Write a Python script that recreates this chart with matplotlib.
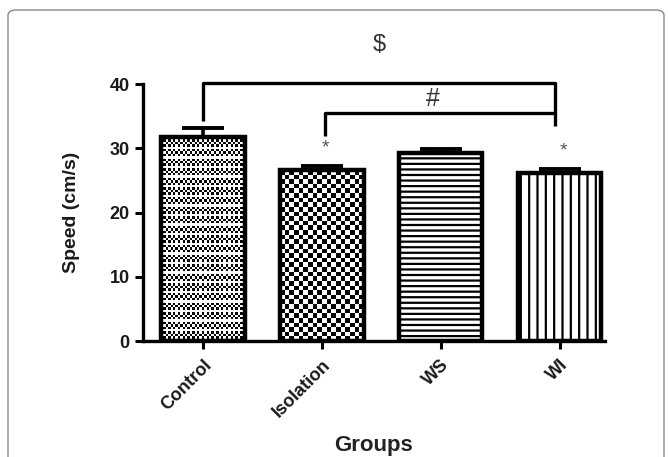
import numpy as np
import matplotlib
matplotlib.use('Agg')
import matplotlib.pyplot as plt
from matplotlib.patches import FancyBboxPatch

plt.rcParams['font.family'] = ['Liberation Sans', 'DejaVu Sans']
plt.rcParams['hatch.linewidth'] = 1.6

# ── Data ──────────────────────────────────────────────────────────────────────
groups = ['Control', 'Isolation', 'WS', 'WI']
means = [31.7, 26.6, 29.3, 26.1]
sems = [1.4, 0.6, 0.6, 0.6]
sig_stars = ['', '*', '', '*']

# ── Figure ────────────────────────────────────────────────────────────────────
fig = plt.figure(figsize=(6.68, 4.57), dpi=100)
W, H = 668, 457

# outer rounded frame
frame = FancyBboxPatch((8 / W, -0.05), (664 - 8) / W, 1.05 - 10 / H,
                       boxstyle='round,pad=0,rounding_size=0.012',
                       transform=fig.transFigure, fill=False,
                       edgecolor='#888888', linewidth=1.0)
fig.patches.append(frame)

ax = fig.add_axes([143 / W, (H - 341) / H, (605 - 143) / W, (341 - 84) / H])
x = np.arange(len(groups))
ax.set_xlim(-0.504, 3.38)
ax.set_ylim(0, 40)

bars = ax.bar(x, means, width=0.7, color='white', edgecolor='none', zorder=3)
ax.errorbar(x, means, yerr=[np.zeros(len(sems)), sems], fmt='none',
            ecolor='black', elinewidth=2.6, capsize=15, capthick=2.8, zorder=2)

# textures
for b, h in ((bars[2], '---'), (bars[3], '||')):
    b.set_hatch(h)
    b.set_edgecolor('black')
    b.set_linewidth(0)


def checker(bar, cell_px, extra_lines=0):
    x0, y0 = bar.get_x(), bar.get_y()
    w, h = bar.get_width(), bar.get_height()
    p0 = ax.transData.transform((x0, y0))
    p1 = ax.transData.transform((x0 + w, y0 + h))
    nx = max(1, int(round((p1[0] - p0[0]) / cell_px)))
    ny = max(1, int(round((p1[1] - p0[1]) / cell_px)))
    img = (np.add.outer(np.arange(ny), np.arange(nx)) % 2).astype(float)
    if extra_lines:
        img[::extra_lines, :] = 1.0
    ax.imshow(img, cmap='gray', vmin=0, vmax=1, extent=(x0, x0 + w, y0, y0 + h),
              aspect='auto', interpolation='nearest', origin='lower', zorder=3.2)


checker(bars[0], 2.4, extra_lines=4)
checker(bars[1], 4.6)

# bar outlines on top of the textures
ax.bar(x, means, width=0.7, fill=False, edgecolor='black', linewidth=3.2, zorder=3.5)

ax.set_xlim(-0.504, 3.38)
ax.set_ylim(0, 40)

# axes styling
for s in ['top', 'right']:
    ax.spines[s].set_visible(False)
for s in ['left', 'bottom']:
    ax.spines[s].set_linewidth(2.4)
ax.set_yticks([0, 10, 20, 30, 40])
ax.set_xticks(x)
ax.set_xticklabels(groups, rotation=45, ha='right', rotation_mode='anchor',
                   fontsize=13.5, fontweight='bold', color='#1a1a1a')
ax.tick_params(axis='both', width=2.2, length=6, labelsize=13)
for lab in ax.get_yticklabels():
    lab.set_fontweight('bold')
    lab.set_color('#1a1a1a')
ax.tick_params(axis='x', pad=5)

ax.set_ylabel('Speed (cm/s)', fontsize=14, fontweight='bold', color='#1a1a1a')
ax.yaxis.set_label_coords(-0.136, 0.5)
ax.set_xlabel('Groups', fontsize=16, fontweight='bold', color='#222222')
ax.xaxis.set_label_coords(0.5, -0.405)
ax.xaxis.label.set_va('center')

# significance brackets
kw = dict(color='black', linewidth=2.4, clip_on=False, solid_capstyle='butt', zorder=4)
ax.plot([0, 0, 2.96, 2.96], [34.2, 40.1, 40.1, 33.4], **kw)
ax.plot([1.03, 1.03, 2.96], [31.9, 35.5, 35.5], **kw)
ax.text(1.48, 46.0, '$', ha='center', va='center', fontsize=17, clip_on=False,
        color='#333333')
ax.text(1.93, 37.7, '#', ha='center', va='center', fontsize=18, clip_on=False,
        color='#333333')
for xi, m, e, st in zip(x, means, sems, sig_stars):
    if st:
        ax.text(xi + 0.03, m + e + 2.9, st, ha='center', va='center',
                fontsize=14, color='#555555')

plt.savefig('out.png', dpi=100)
plt.close()
